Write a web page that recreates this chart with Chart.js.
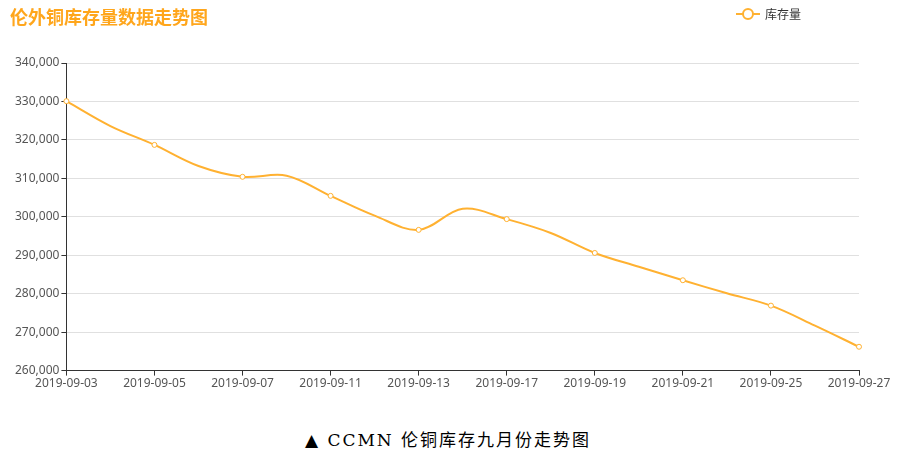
<!DOCTYPE html>
<html>
<head>
<meta charset="utf-8">
<script src="https://cdn.jsdelivr.net/npm/chart.js@4/dist/chart.umd.min.js"></script>
<style>
  html, body { margin: 0; padding: 0; background: #fff; }
  #wrap { position: relative; width: 898px; height: 400px; }
  #caption {
    position: absolute; left: 0; top: 426px; width: 896px; text-align: center;
    font-family: "DejaVu Serif", "Liberation Serif", "Noto Sans CJK SC", serif;
    font-size: 17px; letter-spacing: 2px; color: #000;
  }
</style>
</head>
<body>
<div id="wrap"><canvas id="chartStock" width="898" height="400"></canvas></div>
<div id="caption">▲ CCMN 伦铜库存九月份走势图</div>
<script>
// Dates de cotation (un libellé sur deux affiché, comme l'original)
const dates = [
  '2019-09-03', '2019-09-04', '2019-09-05', '2019-09-06', '2019-09-07',
  '2019-09-09', '2019-09-11', '2019-09-12', '2019-09-13', '2019-09-16',
  '2019-09-17', '2019-09-18', '2019-09-19', '2019-09-20', '2019-09-21',
  '2019-09-24', '2019-09-25', '2019-09-26', '2019-09-27'
];
// 库存量 (tonnes)
const stock = [
  330075, 323600, 318700, 313200, 310400,
  310700, 305450, 300300, 296600, 302100,
  299400, 295800, 290600, 287000, 283500,
  280100, 276900, 271700, 266200
];
const yTicks = [260000, 270000, 280000, 290000, 300000, 310000, 320000, 330000, 340000];

const titre = '伦外铜库存量数据走势图';
const orange = '#ffb131';

// Titre + légende dessinés à la main (style ligne + cercle)
const enTete = {
  id: 'enTete',
  afterDraw(chart) {
    const ctx = chart.ctx;
    ctx.save();
    ctx.fillStyle = '#ffa61c';
    ctx.font = 'bold 18px "Noto Sans CJK SC", sans-serif';
    ctx.textBaseline = 'middle';
    ctx.textAlign = 'left';
    ctx.fillText(titre, 10, 17);

    const ds = chart.data.datasets[0];
    ctx.strokeStyle = ds.borderColor;
    ctx.lineWidth = 2;
    ctx.beginPath();
    ctx.moveTo(736, 14); ctx.lineTo(760, 14);
    ctx.stroke();
    ctx.beginPath();
    ctx.arc(748, 14, 5, 0, Math.PI * 2);
    ctx.fillStyle = '#fff';
    ctx.fill();
    ctx.stroke();
    ctx.fillStyle = '#333';
    ctx.font = '12px "Noto Sans CJK SC", sans-serif';
    ctx.fillText(ds.label, 765, 14);
    ctx.restore();
  }
};

new Chart(document.getElementById('chartStock'), {
  type: 'line',
  data: {
    labels: dates,
    datasets: [{
      label: '库存量',
      data: stock,
      borderColor: orange,
      backgroundColor: '#fff',
      borderWidth: 2,
      tension: 0.35,
      fill: false,
      pointRadius: ctx => ctx.dataIndex % 2 === 0 ? 2.5 : 0,
      pointBorderWidth: 1,
      pointBackgroundColor: '#fff',
      pointBorderColor: orange,
    }]
  },
  options: {
    responsive: false,
    animation: false,
    layout: { padding: { top: 63, left: 13, right: 39, bottom: 8 } },
    plugins: {
      legend: { display: false },
      tooltip: { enabled: false }
    },
    scales: {
      x: {
        offset: false,
        grid: {
          drawOnChartArea: false,
          tickLength: 5,
          color: ctx => (ctx.index % 2 === 0 ? '#333' : 'rgba(0,0,0,0)'),
        },
        border: { color: '#333' },
        ticks: {
          autoSkip: false,
          maxRotation: 0,
          color: '#555',
          font: { family: '"Noto Sans", sans-serif', size: 12 },
          padding: 1,
          callback: function (v, i) { return i % 2 === 0 ? this.getLabelForValue(v) : ''; }
        }
      },
      y: {
        min: 260000,
        max: 340000,
        afterBuildTicks: axis => { axis.ticks = yTicks.map(v => ({ value: v })); },
        grid: { color: '#e0e0e0', tickColor: '#333', tickLength: 5 },
        border: { color: '#333' },
        ticks: {
          color: '#555',
          font: { family: '"Noto Sans", sans-serif', size: 12 },
          padding: 2,
          callback: v => v.toLocaleString('en-US')
        }
      }
    }
  },
  plugins: [enTete]
});
</script>
</body>
</html>
